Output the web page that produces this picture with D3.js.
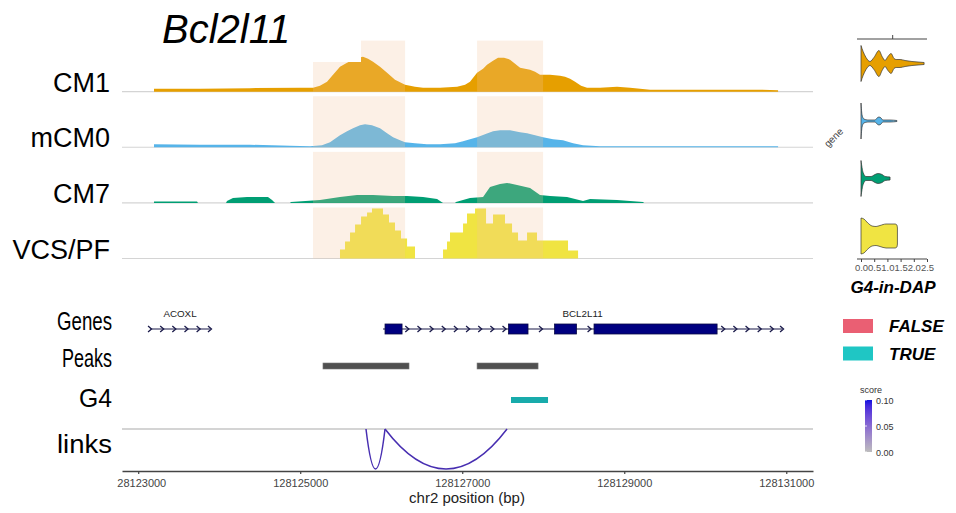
<!DOCTYPE html>
<html>
<head>
<meta charset="utf-8">
<script src="https://cdn.jsdelivr.net/npm/d3@7"></script>
<style>
body { margin: 0; background: #fff; }
svg { display: block; font-family: "Liberation Sans", Arial, sans-serif; }
</style>
</head>
<body>
<div class="chart"></div>
<script>
// genomic window and axis ticks
const region = [128122800, 128131330];
const axisTicks = [128123000, 128125000, 128127000, 128129000, 128131000];

// coverage tracks: [position, normalised signal]
const trackNames = ["CM1", "mCM0", "CM7", "VCS/PF"];
const trackColors = ["#E69F00", "#56B4E9", "#009E73", "#F0E442"];

const cm1 = [[128123195,3],[128123763,3],[128124380,3.5],[128124998,4],[128125158,4],[128125244,6],
  [128125331,10],[128125405,17],[128125491,25],[128125578,29],[128125652,32],[128125714,34],[128125775,35],
  [128125837,33],[128125899,30],[128125985,25],[128126072,19],[128126170,12],[128126294,7],[128126417,5],
  [128126516,4],[128126726,4],[128126936,5],[128127035,7],[128127096,10],[128127183,19],[128127257,23],
  [128127306,27],[128127380,31],[128127442,34],[128127516,34],[128127590,32],[128127652,28],[128127714,24],
  [128127837,22],[128127899,20],[128127960,17],[128128084,17],[128128207,16],[128128269,15],[128128331,13],
  [128128393,10],[128128467,6],[128128541,4],[128128701,4],[128128911,5],[128129072,4],[128129319,2],
  [128129936,2],[128130553,2],[128130899,1.5]];

const mcm0 = [[128123195,3],[128123763,2.5],[128124380,2.5],[128124874,1.5],[128125121,1],[128125269,2],
  [128125368,5],[128125491,12],[128125578,16],[128125652,19],[128125738,22],[128125800,23],[128125886,22],
  [128125985,19],[128126072,14],[128126146,10],[128126232,7],[128126294,5],[128126417,4],[128126565,3],
  [128126726,3],[128126911,4],[128127010,6],[128127096,8],[128127183,10],[128127281,13],[128127380,16],
  [128127467,17],[128127590,17],[128127714,15],[128127800,14],[128127899,12],[128127998,10],[128128121,8],
  [128128244,7],[128128368,4],[128128491,2],[128128701,1],[128129936,1],[128130899,1]];

const cm7 = [[128123195,1.5],[128123726,1.5],[128123738,0],[128124084,0],[128124096,2],[128124170,5],
  [128124343,6],[128124602,6],[128124652,3],[128124689,0],[128124874,0],[128124886,1],[128125244,3],
  [128125491,6],[128125701,8],[128125899,8],[128126146,7],[128126319,7],[128126516,6],[128126689,4],
  [128126763,0],[128126911,0],[128126923,1],[128127096,5],[128127257,6],[128127343,16],[128127467,19],
  [128127553,20],[128127677,18],[128127837,15],[128127960,8],[128128084,7],[128128294,6],[128128491,2],
  [128128578,4],[128128911,3],[128129232,1],[128129244,0]];

const vcs = [[128125400,0],[128125491,9],[128125553,17],[128125615,26],[128125677,34],[128125751,42],
  [128125825,46],[128125886,50],[128126022,44],[128126096,36],[128126170,28],[128126244,20],[128126319,12],
  [128126417,0],[128126763,9],[128126812,17],[128126849,26],[128127010,35],[128127059,45],[128127158,50],
  [128127294,35],[128127380,44],[128127528,35],[128127615,26],[128127689,18],[128127800,26],[128127923,18],
  [128128306,8],[128128430,0]];

const trackData = [cm1, mcm0, cm7, vcs];

// highlighted regions
const highlights = [[128125158, 128126294], [128127183, 128127998]];

// genes
const geneNames = ["ACOXL", "BCL2L11"];
const geneSpans = [[128123146, 128123886], [128126022, 128130948]];
const geneExons = [[], [[128126047,128126257],[128127572,128127812],[128128140,128128411],[128128627,128130146]]];

// peaks, G4 and links
const peaks = [[128125281, 128126343], [128127183, 128127936]];
const g4 = [[128127602, 128128059]];
const links = [[128125812, 128126047], [128126047, 128127553]];
const linkScores = [0.08, 0.08];

// violins (G4-in-DAP): [value, half width]
const violinValues = [
  [[0,18],[0.08,12],[0.19,6],[0.34,2],[0.49,6],[0.68,13],[0.8,7],[0.91,3],[1.02,7],[1.14,10],[1.25,5],[1.33,4],[1.48,4],[1.67,3],[1.93,2],[2.16,1.5],[2.39,1]],
  [[0,18],[0.04,6],[0.11,2],[0.26,1],[0.53,1],[0.61,3],[0.68,4],[0.76,3],[0.83,1],[1.1,1],[1.36,0.5]],
  [[0,18],[0.08,6],[0.19,2],[0.38,2],[0.53,4],[0.64,5],[0.8,4],[0.91,2],[1.1,1.5]],
  [[0,18],[0.11,17],[0.26,13],[0.42,10],[0.57,9.5],[0.72,10.5],[0.95,12],[1.29,12],[1.36,11],[1.38,8]]
];
const violinTicks = [0, 0.5, 1, 1.5, 2, 2.5];
const legendLabels = ["FALSE", "TRUE"];
const legendColors = ["#ea5f73", "#1fc6c4"];
const scoreTicks = [0, 0.05, 0.1];

const w = 956, h = 513;
const svg = d3.select(".chart").append("svg").attr("width", w).attr("height", h);

const x = d3.scaleLinear().domain(region).range([122, 813]);
const trackBand = d3.scaleBand().domain(trackNames).range([36, 258.5]).paddingInner(0);
const trackH = 51;

// coverage tracks
trackNames.forEach((name, i) => {
  const base = trackBand(name) + trackBand.bandwidth();
  const y = d3.scaleLinear().domain([0, 50]).range([base, base - 50]);
  const area = d3.area()
    .x(d => x(d[0]))
    .y0(base)
    .y1(d => y(d[1]))
    .curve(name === "VCS/PF" ? d3.curveStepAfter : d3.curveLinear);
  svg.append("line")
    .attr("x1", x.range()[0]).attr("x2", x.range()[1])
    .attr("y1", base).attr("y2", base)
    .attr("stroke", "#d4d4d4").attr("stroke-width", 1.2);
  svg.append("path").datum(trackData[i])
    .attr("d", area)
    .attr("fill", trackColors[i]);
  svg.selectAll(null).data(highlights).enter().append("rect")
    .attr("x", d => x(d[0]))
    .attr("width", d => x(d[1]) - x(d[0]))
    .attr("y", base - trackH)
    .attr("height", trackH)
    .attr("fill", "#f5c49a")
    .attr("opacity", 0.25);
  svg.append("text")
    .attr("x", 110).attr("y", base)
    .attr("text-anchor", "end")
    .style("font-size", "27px")
    .text(name);
});

// title box sits on top of the first track
svg.append("rect").attr("x", 122).attr("y", 0).attr("width", 239).attr("height", 62).attr("fill", "#fff");
svg.append("text")
  .attr("x", 162).attr("y", 43)
  .style("font-size", "40px").style("font-style", "italic")
  .text("Bcl2l11");

// lower panel labels (squeezed horizontally like the source figure)
const lowerLabels = ["Genes", "Peaks", "G4", "links"];
const lowerBase = [330, 367, 407, 453];
const lowerWidth = [55, 50, 33, 55];
svg.selectAll(".lower").data(lowerLabels).enter().append("text")
  .attr("x", (d, i) => 112 - lowerWidth[i]).attr("y", (d, i) => lowerBase[i])
  .attr("textLength", (d, i) => lowerWidth[i])
  .attr("lengthAdjust", "spacingAndGlyphs")
  .style("font-size", "25px")
  .text(d => d);

// genes
const geneY = 329;
const chevStep = 150;
geneNames.forEach((name, i) => {
  const [s, e] = geneSpans[i];
  const g = svg.append("g");
  g.append("line")
    .attr("x1", x(s)).attr("x2", x(e)).attr("y1", geneY).attr("y2", geneY)
    .attr("stroke", "#1a1a4a").attr("stroke-width", 1.2);
  const inExon = p => geneExons[i].some(ex => p >= ex[0] - 40 && p <= ex[1] + 40);
  const chev = d3.range(s, e, chevStep).filter(p => !inExon(p)).concat([e]);
  g.selectAll("path").data(chev).enter().append("path")
    .attr("d", d => `M${x(d) - 2},${geneY - 3}L${x(d) + 1.5},${geneY}L${x(d) - 2},${geneY + 3}`)
    .attr("fill", "none").attr("stroke", "#1a1a4a").attr("stroke-width", 1.3);
  g.selectAll("rect").data(geneExons[i]).enter().append("rect")
    .attr("x", d => x(d[0])).attr("width", d => x(d[1]) - x(d[0]))
    .attr("y", geneY - 5).attr("height", 10)
    .attr("fill", "#000080").attr("stroke", "#0b0b45").attr("stroke-width", 0.8);
  g.append("text")
    .attr("x", x((s + e) / 2)).attr("y", 316.5)
    .attr("text-anchor", "middle")
    .style("font-size", "9.8px").attr("fill", "#222")
    .text(name);
});

// peaks
svg.selectAll(".peak").data(peaks).enter().append("rect")
  .attr("x", d => x(d[0])).attr("width", d => x(d[1]) - x(d[0]))
  .attr("y", 363).attr("height", 6)
  .attr("fill", "#505050").attr("stroke", "#777").attr("stroke-width", 0.6);

// G4
svg.selectAll(".g4").data(g4).enter().append("rect")
  .attr("x", d => x(d[0])).attr("width", d => x(d[1]) - x(d[0]))
  .attr("y", 397).attr("height", 6)
  .attr("fill", "#18abab");

// links
const linkTop = 429, linkDepth = 40;
const score = d3.scaleLinear().domain([0, 0.1]).range(["#bdbdbd", "#1010e0"]).interpolate(d3.interpolateLab);
svg.append("line")
  .attr("x1", x.range()[0]).attr("x2", x.range()[1]).attr("y1", linkTop).attr("y2", linkTop)
  .attr("stroke", "#aaa").attr("stroke-width", 1.2);
svg.selectAll(".link").data(links).enter().append("path")
  .attr("d", d => `M${x(d[0])},${linkTop}Q${x((d[0] + d[1]) / 2)},${linkTop + 2 * linkDepth} ${x(d[1])},${linkTop}`)
  .attr("fill", "none")
  .attr("stroke", (d, i) => d3.color(score(linkScores[i])).darker(0.6))
  .attr("stroke-width", 1.5);

// genomic axis (first label is cut by the figure edge)
svg.append("clipPath").attr("id", "axclip").append("rect")
  .attr("x", 117).attr("y", -31).attr("width", 839).attr("height", 73);
const xAxis = d3.axisBottom(x).tickValues(axisTicks).tickSize(3).tickSizeOuter(0)
  .tickPadding(5).tickFormat(d3.format("d"));
const ax = svg.append("g")
  .attr("transform", "translate(0,471)")
  .attr("clip-path", "url(#axclip)")
  .call(xAxis);
ax.select(".domain").attr("stroke", "#444").attr("stroke-width", 1.6);
ax.selectAll(".tick line").attr("stroke", "#444").attr("stroke-width", 1.2);
ax.selectAll("text").style("font-size", "11px").attr("fill", "#444")
  .style("font-family", "'Liberation Sans', Arial, sans-serif");
svg.append("text")
  .attr("x", 467).attr("y", 503)
  .attr("text-anchor", "middle")
  .style("font-size", "15px").attr("fill", "#222")
  .text("chr2 position (bp)");

// violins
const vx = d3.scaleLinear().domain([0, 2.5]).range([861, 927]);
const vy = d3.scalePoint().domain(trackNames).range([63.5, 236]);
svg.append("line").attr("x1", 857).attr("x2", 927).attr("y1", 39).attr("y2", 39)
  .attr("stroke", "#444").attr("stroke-width", 1.2);
svg.append("line").attr("x1", vx(1.2)).attr("x2", vx(1.2)).attr("y1", 39).attr("y2", 35)
  .attr("stroke", "#444").attr("stroke-width", 1);
trackNames.forEach((name, i) => {
  const c = vy(name);
  const area = d3.area()
    .x(d => vx(d[0]))
    .y0(d => c - d[1])
    .y1(d => c + d[1])
    .curve(d3.curveMonotoneX);
  svg.append("path").datum(violinValues[i])
    .attr("d", area)
    .attr("fill", trackColors[i])
    .attr("stroke", "#333").attr("stroke-width", 0.7);
});
const vAxis = d3.axisBottom(vx).tickValues(violinTicks).tickSize(3).tickSizeOuter(0)
  .tickPadding(2).tickFormat(d3.format(".1f"));
const vax = svg.append("g").attr("transform", "translate(0,259)").call(vAxis);
vax.select(".domain").attr("stroke", "#444").attr("stroke-width", 1.2)
  .attr("d", "M857,0H927");
vax.selectAll(".tick line").attr("stroke", "#444");
vax.selectAll("text").style("font-size", "9.5px").attr("fill", "#555")
  .style("font-family", "'Liberation Sans', Arial, sans-serif");
svg.append("text")
  .attr("transform", "translate(836,140) rotate(-45)")
  .attr("text-anchor", "middle")
  .style("font-size", "10px").attr("fill", "#444")
  .text("gene");
svg.append("text")
  .attr("x", 893).attr("y", 293)
  .attr("text-anchor", "middle")
  .style("font-size", "17px").style("font-weight", "bold").style("font-style", "italic")
  .text("G4-in-DAP");

// FALSE / TRUE legend
const legY = d3.scalePoint().domain(legendLabels).range([326, 353.5]);
svg.selectAll(".leg").data(legendLabels).enter().append("rect")
  .attr("x", 843).attr("y", d => legY(d) - 7)
  .attr("width", 30).attr("height", 14)
  .attr("fill", (d, i) => legendColors[i]);
svg.selectAll(".legt").data(legendLabels).enter().append("text")
  .attr("x", 889).attr("y", d => legY(d) + 6)
  .style("font-size", "17px").style("font-weight", "bold").style("font-style", "italic")
  .text(d => d);

// score legend
const sy = d3.scaleLinear().domain([0, 0.1]).range([452, 400]);
const grad = svg.append("defs").append("linearGradient")
  .attr("id", "scoreGrad").attr("x1", 0).attr("x2", 0).attr("y1", 1).attr("y2", 0);
d3.range(0, 1.01, 0.1).forEach(t => {
  grad.append("stop").attr("offset", t).attr("stop-color", score(t * 0.1));
});
svg.append("text").attr("x", 860).attr("y", 393).style("font-size", "9px").attr("fill", "#333").text("score");
svg.append("rect").attr("x", 865).attr("y", sy(0.1)).attr("width", 7).attr("height", sy(0) - sy(0.1))
  .attr("fill", "url(#scoreGrad)");
svg.selectAll(".stick").data(scoreTicks).enter().append("line")
  .attr("x1", 865).attr("x2", 867).attr("y1", d => sy(d)).attr("y2", d => sy(d))
  .attr("stroke", "#fff").attr("stroke-width", 0.8);
svg.selectAll(".stxt").data(scoreTicks).enter().append("text")
  .attr("x", 876).attr("y", d => sy(d) + 3.5)
  .style("font-size", "9px").attr("fill", "#333")
  .text(d => d.toFixed(2));
</script>
</body>
</html>
